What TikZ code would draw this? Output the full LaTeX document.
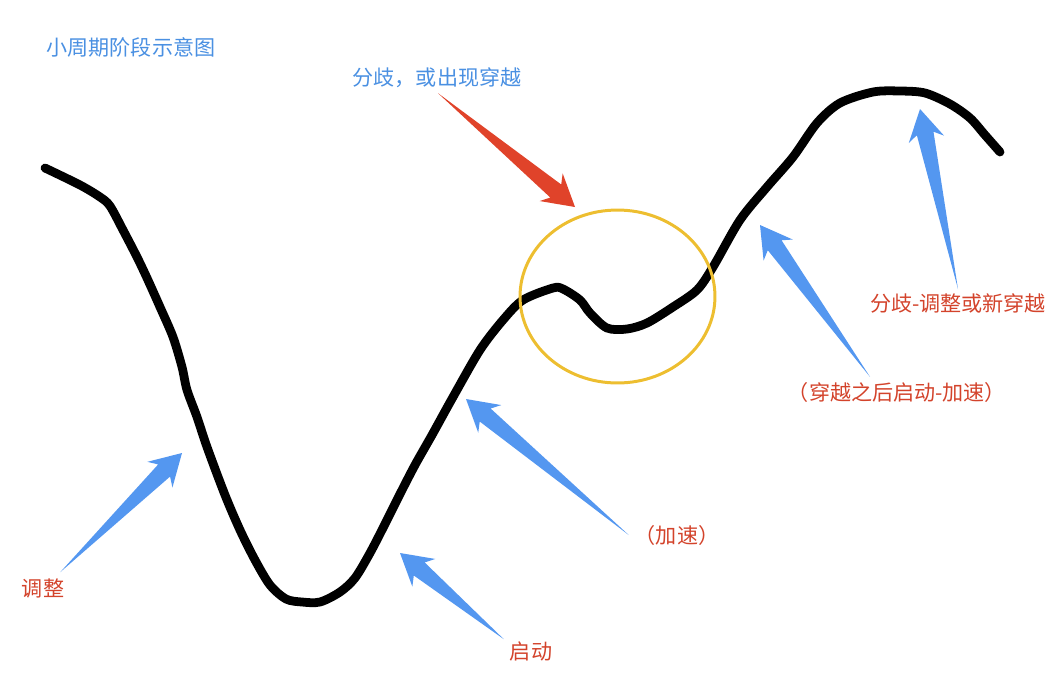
\documentclass[tikz,border=0pt]{standalone}
\usepackage{fontspec}
\setmainfont{Noto Sans CJK SC}
\usetikzlibrary{calc}
\definecolor{txtblue}{HTML}{4A90E2}
\definecolor{txtred}{HTML}{D3432B}
\definecolor{arrred}{HTML}{E0432A}
\definecolor{arrblue}{HTML}{5497F0}
\definecolor{ringyellow}{HTML}{EDBE30}
\begin{document}
\begin{tikzpicture}[x=0.02cm, y=-0.02cm, line join=round, line cap=round,
    font=\fontsize{12}{14}\selectfont,
    bluetxt/.style={text=txtblue, inner sep=1pt},
    redtxt/.style={text=txtred, inner sep=1pt}]
    \def\fatarrow#1#2#3{% colour, tail, tip
        \path ($(#3)!0.62cm!(#2)$) coordinate (fb) ($(#3)!0.5cm!(#2)$) coordinate (fs);
        \fill[#1] (#2) -- ($(fs)!0.17cm!90:(#3)$) -- ($(fb)!0.36cm!90:(#3)$) -- (#3)
            -- ($(fb)!0.36cm!-90:(#3)$) -- ($(fs)!0.17cm!-90:(#3)$) -- cycle;}

    \useasboundingbox (0,0) rectangle (1059,691);

    % duong gia
    \draw[line width=5pt] plot[smooth, tension=0.5] coordinates {(45,168) (80,185) (100,197) (110,206)
        (123,230) (137,257) (147,278) (160,307) (173,337) (182,367) (187,390) (197,417) (207,447)
        (225,495) (240,530) (255,560) (270,585) (286,599) (302,602) (320,602) (340,592) (355,578)
        (370,553) (385,524) (400,494) (415,465) (432,435) (453,397) (480,350) (503,320) (523,300)
        (553,288) (563,289) (580,300) (590,313) (607,328) (627,329) (647,323) (673,307) (697,290)
        (713,267) (740,220) (767,187) (793,157) (817,123) (840,103) (873,92) (900,91) (925,93)
        (950,104) (970,118) (985,135) (1000,152)};

    \draw[ringyellow, line width=1.7pt] (617.5,296.5) ellipse [x radius=1.95cm, y radius=1.73cm];

    % nhan
    \node[bluetxt] (title) at (131,47) {小周期阶段示意图};
    \node[bluetxt] (lblCross) at (437,78) {分歧，或出现穿越};
    \node[redtxt] (lblAdj) at (43,588) {调整};
    \node[redtxt] (lblStart) at (531,651) {启动};
    \node[redtxt] (lblAcc) at (677,535) {（加速）};
    \node[redtxt] (lblAfter) at (897,392) {（穿越之后启动-加速）};
    \node[redtxt] (lblSplit) at (958,303) {分歧-调整或新穿越};

    % dau mui ten
    \coordinate (tCross) at (575,207);
    \coordinate (tAdj) at (182,453);
    \coordinate (tStart) at (400,553);
    \coordinate (tAcc) at (466,399);
    \coordinate (tAfter) at (760,225);
    \coordinate (tSplit) at (920,109);
    \coordinate (aCross) at ($(lblCross.south)+(1,3)$);
    \coordinate (aAdj) at ($(lblAdj.north east)+(-6,-4)$);
    \coordinate (aStart) at ($(lblStart.north west)+(-4,0)$);
    \coordinate (aAcc) at ($(lblAcc.west)+(-4,0)$);
    \coordinate (aAfter) at ($(lblAfter.north)+(-27,-3)$);
    \coordinate (aSplit) at ($(lblSplit.north)+(0,-2)$);

    \fatarrow{arrred}{aCross}{tCross}
    \fatarrow{arrblue}{aAdj}{tAdj}
    \fatarrow{arrblue}{aStart}{tStart}
    \fatarrow{arrblue}{aAcc}{tAcc}
    \fatarrow{arrblue}{aAfter}{tAfter}
    \fatarrow{arrblue}{aSplit}{tSplit}
\end{tikzpicture}
\end{document}
